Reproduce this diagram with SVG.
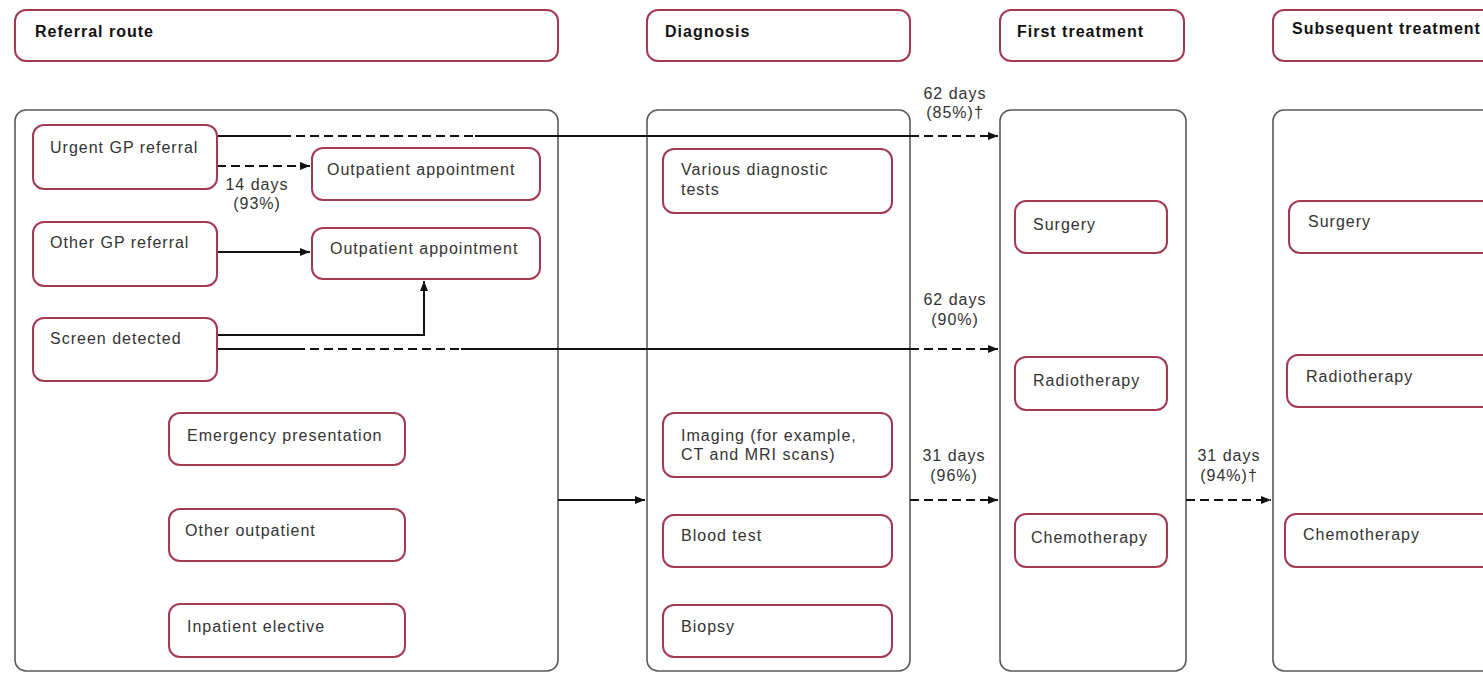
<svg xmlns="http://www.w3.org/2000/svg" width="1483" height="673" viewBox="0 0 1483 673">
<style>
  .hdr { fill: #ffffff; stroke: #a33a52; stroke-width: 2; }
  .cont { fill: #ffffff; stroke: #5a5a5a; stroke-width: 1.6; }
  .node { fill: #ffffff; stroke: #a33a52; stroke-width: 2; }
  .ht { font-family: "Liberation Sans", Arial, sans-serif; font-size: 16px; font-weight: bold; fill: #111; letter-spacing: 1px; }
  .t { font-family: "Liberation Sans", Arial, sans-serif; font-size: 16px; fill: #333; letter-spacing: 1px; }
  .lbl { font-family: "Liberation Sans", Arial, sans-serif; font-size: 16px; fill: #333; letter-spacing: 1px; text-anchor: middle; }
  .solid { fill: none; stroke: #111; stroke-width: 2; }
  .dash { fill: none; stroke: #111; stroke-width: 2; stroke-dasharray: 9 5; }
</style>
<defs>
  <marker id="arr" viewBox="0 0 10 8" refX="10" refY="4" markerWidth="10" markerHeight="8" markerUnits="userSpaceOnUse" orient="auto">
    <path d="M0,0 L10,4 L0,8 Z" fill="#111"/>
  </marker>
</defs>
<rect width="1483" height="673" fill="#ffffff"/>

<!-- headers -->
<g id="hdr-referral"><rect class="hdr" x="15" y="10" width="543" height="51" rx="11"/><text class="ht" x="35" y="37">Referral route</text></g>
<g id="hdr-diagnosis"><rect class="hdr" x="647" y="10" width="263" height="51" rx="11"/><text class="ht" x="665" y="37">Diagnosis</text></g>
<g id="hdr-first"><rect class="hdr" x="1000" y="10" width="184" height="51" rx="11"/><text class="ht" x="1017" y="37">First treatment</text></g>
<g id="hdr-subsequent"><rect class="hdr" x="1273" y="10" width="230" height="51" rx="11"/><text class="ht" x="1292" y="34">Subsequent treatment</text></g>

<!-- containers -->
<g id="col-referral"><rect class="cont" x="15" y="110" width="543" height="561" rx="11"/></g>
<g id="col-diagnosis"><rect class="cont" x="647" y="110" width="263" height="561" rx="11"/></g>
<g id="col-first"><rect class="cont" x="1000" y="110" width="186" height="561" rx="11"/></g>
<g id="col-subsequent"><rect class="cont" x="1273" y="110" width="230" height="561" rx="11"/></g>

<!-- connectors -->
<g id="connectors">
  <path class="solid" d="M217,136 H282"/>
  <path class="dash" d="M282,136 H475"/>
  <path class="solid" d="M475,136 H910"/>
  <path class="dash" d="M910,136 H998" marker-end="url(#arr)"/>
  <path class="dash" d="M217,166 H310" marker-end="url(#arr)"/>
  <path class="solid" d="M217,252 H310" marker-end="url(#arr)"/>
  <path class="solid" d="M217,335 H424 V281" marker-end="url(#arr)"/>
  <path class="solid" d="M217,349 H296"/>
  <path class="dash" d="M296,349 H461"/>
  <path class="solid" d="M461,349 H910"/>
  <path class="dash" d="M910,349 H998" marker-end="url(#arr)"/>
  <path class="solid" d="M558,500 H645" marker-end="url(#arr)"/>
  <path class="dash" d="M910,500 H998" marker-end="url(#arr)"/>
  <path class="dash" d="M1186,500 H1271" marker-end="url(#arr)"/>
  <text class="lbl" x="257" y="190">14 days</text>
  <text class="lbl" x="257" y="209">(93%)</text>
  <text class="lbl" x="955" y="99">62 days</text>
  <text class="lbl" x="955" y="118">(85%)†</text>
  <text class="lbl" x="955" y="305">62 days</text>
  <text class="lbl" x="955" y="325">(90%)</text>
  <text class="lbl" x="954" y="461">31 days</text>
  <text class="lbl" x="954" y="481">(96%)</text>
  <text class="lbl" x="1229" y="461">31 days</text>
  <text class="lbl" x="1229" y="481">(94%)†</text>
</g>

<!-- referral nodes -->
<g id="urgent-gp"><rect class="node" x="33" y="125" width="184" height="64" rx="11"/><text class="t" x="50" y="153">Urgent GP referral</text></g>
<g id="outpatient-1"><rect class="node" x="312" y="148" width="228" height="52" rx="11"/><text class="t" x="327" y="175">Outpatient appointment</text></g>
<g id="other-gp"><rect class="node" x="33" y="222" width="184" height="64" rx="11"/><text class="t" x="50" y="248">Other GP referral</text></g>
<g id="outpatient-2"><rect class="node" x="312" y="228" width="228" height="51" rx="11"/><text class="t" x="330" y="254">Outpatient appointment</text></g>
<g id="screen"><rect class="node" x="33" y="318" width="184" height="63" rx="11"/><text class="t" x="50" y="344">Screen detected</text></g>
<g id="emergency"><rect class="node" x="169" y="413" width="236" height="52" rx="11"/><text class="t" x="187" y="441">Emergency presentation</text></g>
<g id="other-outpatient"><rect class="node" x="169" y="509" width="236" height="52" rx="11"/><text class="t" x="185" y="536">Other outpatient</text></g>
<g id="inpatient"><rect class="node" x="169" y="604" width="236" height="53" rx="11"/><text class="t" x="187" y="632">Inpatient elective</text></g>

<!-- diagnosis nodes -->
<g id="various-tests"><rect class="node" x="663" y="149" width="229" height="64" rx="11"/><text class="t" x="681" y="175">Various diagnostic</text><text class="t" x="681" y="195">tests</text></g>
<g id="imaging"><rect class="node" x="663" y="413" width="229" height="64" rx="11"/><text class="t" x="681" y="441">Imaging (for example,</text><text class="t" x="681" y="460">CT and MRI scans)</text></g>
<g id="blood-test"><rect class="node" x="663" y="515" width="229" height="52" rx="11"/><text class="t" x="681" y="541">Blood test</text></g>
<g id="biopsy"><rect class="node" x="663" y="605" width="229" height="52" rx="11"/><text class="t" x="681" y="632">Biopsy</text></g>

<!-- first treatment nodes -->
<g id="first-surgery"><rect class="node" x="1015" y="201" width="152" height="52" rx="11"/><text class="t" x="1033" y="230">Surgery</text></g>
<g id="first-radiotherapy"><rect class="node" x="1015" y="357" width="152" height="53" rx="11"/><text class="t" x="1033" y="386">Radiotherapy</text></g>
<g id="first-chemotherapy"><rect class="node" x="1015" y="514" width="152" height="53" rx="11"/><text class="t" x="1031" y="543">Chemotherapy</text></g>

<!-- subsequent treatment nodes -->
<g id="sub-surgery"><rect class="node" x="1289" y="201" width="210" height="52" rx="11"/><text class="t" x="1308" y="227">Surgery</text></g>
<g id="sub-radiotherapy"><rect class="node" x="1287" y="355" width="212" height="52" rx="11"/><text class="t" x="1306" y="382">Radiotherapy</text></g>
<g id="sub-chemotherapy"><rect class="node" x="1285" y="514" width="214" height="53" rx="11"/><text class="t" x="1303" y="540">Chemotherapy</text></g>
</svg>
